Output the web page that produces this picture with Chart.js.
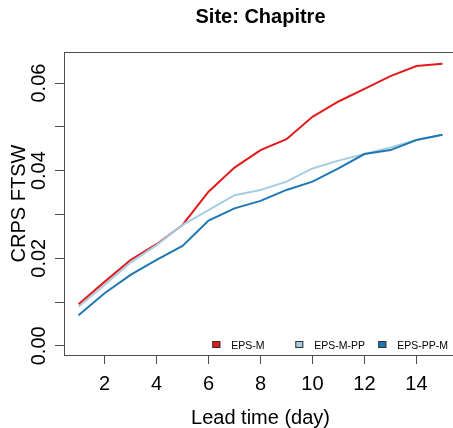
<!DOCTYPE html>
<html>
<head>
<meta charset="utf-8">
<script src="https://cdn.jsdelivr.net/npm/chart.js@4"></script>
<style>
  html, body { margin: 0; padding: 0; background: #fff; }
  #wrap { width: 453px; height: 428px; overflow: hidden; }
</style>
</head>
<body>
<div id="wrap"><canvas id="crps" width="460" height="428"></canvas></div>
<script>
const days = [1, 2, 3, 4, 5, 6, 7, 8, 9, 10, 11, 12, 13, 14, 15];
const epsM = [0.0095, 0.0146, 0.0196, 0.0232, 0.0276, 0.0352, 0.0407, 0.0447, 0.0472, 0.0523, 0.0558, 0.0587, 0.0616, 0.0639, 0.0644];
const epsMPP = [0.0089, 0.0139, 0.0190, 0.0230, 0.0276, 0.0310, 0.0344, 0.0356, 0.0375, 0.0405, 0.0423, 0.0438, 0.0453, 0.0470, 0.0482];
const epsPPM = [0.0070, 0.0120, 0.0162, 0.0196, 0.0228, 0.0286, 0.0314, 0.0331, 0.0356, 0.0375, 0.0405, 0.0438, 0.0447, 0.0470, 0.0482];
const seriesNames = ['EPS-M', 'EPS-M-PP', 'EPS-PP-M'];
const xTicks = [2, 4, 6, 8, 10, 12, 14];
const yTicks = [0, 0.01, 0.02, 0.03, 0.04, 0.05, 0.06];
const yTickLabels = ['0.00', '', '0.02', '', '0.04', '', '0.06'];
const titleText = 'Site: Chapitre';
const xTitle = 'Lead time (day)';
const yTitle = 'CRPS FTSW';

const FONT = '"Liberation Sans", Arial, Helvetica, sans-serif';
const AXIS = '#4d4d4d';

// base-graphics style box, labels and legend
const rStyle = {
  id: 'rStyle',
  afterDraw(chart) {
    const { ctx, chartArea: a, scales: { x, y } } = chart;
    ctx.save();
    ctx.strokeStyle = AXIS;
    ctx.lineWidth = 1;
    ctx.beginPath();
    ctx.moveTo(a.left, a.top + 0.5);
    ctx.lineTo(a.right, a.top + 0.5);
    ctx.stroke();

    ctx.fillStyle = '#000';
    ctx.textBaseline = 'alphabetic';
    ctx.textAlign = 'center';
    ctx.font = '20px ' + FONT;
    x.ticks.forEach(t => ctx.fillText(String(t.value), x.getPixelForValue(t.value), a.bottom + 35));
    y.ticks.forEach((t, i) => {
      const label = yTickLabels[i];
      if (!label) return;
      ctx.save();
      ctx.translate(a.left - 19, y.getPixelForValue(t.value));
      ctx.rotate(-Math.PI / 2);
      ctx.fillText(label, 0, 0);
      ctx.restore();
    });

    const cx = (a.left + a.right) / 2;
    ctx.fillText(xTitle, cx, 424);
    ctx.save();
    ctx.translate(25, (a.top + a.bottom) / 2);
    ctx.rotate(-Math.PI / 2);
    ctx.fillText(yTitle, 0, 0);
    ctx.restore();

    ctx.font = 'bold 20px ' + FONT;
    ctx.fillText(titleText, cx, 23);

    // legend, bottom right, horizontal
    ctx.font = '10.5px ' + FONT;
    ctx.textAlign = 'left';
    chart.data.datasets.forEach((ds, i) => {
      const bx = a.right - 244.7 + i * 83;
      const by = a.bottom - 14;
      ctx.fillStyle = ds.borderColor;
      ctx.fillRect(bx, by, 8, 7);
      ctx.strokeStyle = '#333';
      ctx.strokeRect(bx + 0.5, by + 0.5, 7, 6);
      ctx.fillStyle = '#000';
      ctx.fillText(ds.label, bx + 19, a.bottom - 6);
    });
    ctx.restore();
  }
};

const ctx = document.getElementById('crps').getContext('2d');
new Chart(ctx, {
  type: 'line',
  data: {
    labels: days,
    datasets: [
      { label: seriesNames[0], data: epsM, borderColor: '#E31A1C', order: 3 },
      { label: seriesNames[1], data: epsMPP, borderColor: '#A6CEE3', order: 2 },
      { label: seriesNames[2], data: epsPPM, borderColor: '#1F78B4', order: 1 }
    ].map(d => ({ ...d, data: d.data.map((v, i) => ({ x: days[i], y: v })), borderWidth: 2, pointRadius: 0, tension: 0, fill: false }))
  },
  options: {
    responsive: false,
    animation: false,
    devicePixelRatio: 1,
    layout: { padding: { top: 52, right: 3, left: 0, bottom: 0 } },
    plugins: {
      legend: { display: false },
      tooltip: { enabled: false },
      title: { display: false }
    },
    scales: {
      x: {
        type: 'linear',
        min: 0.44,
        max: 15.56,
        afterBuildTicks: s => { s.ticks = xTicks.map(v => ({ value: v })); },
        afterFit: s => { s.height = 73; },
        ticks: { display: false },
        grid: { drawOnChartArea: false, drawTicks: true, tickLength: 9, tickColor: AXIS },
        border: { display: true, color: AXIS, width: 1 }
      },
      y: {
        min: -0.0021,
        max: 0.0671,
        afterBuildTicks: s => { s.ticks = yTicks.map(v => ({ value: v })); },
        afterFit: s => { s.width = 64; },
        ticks: { display: false },
        grid: { drawOnChartArea: false, drawTicks: true, tickLength: 9, tickColor: AXIS },
        border: { display: true, color: AXIS, width: 1 }
      }
    }
  },
  plugins: [rStyle]
});
</script>
</body>
</html>
